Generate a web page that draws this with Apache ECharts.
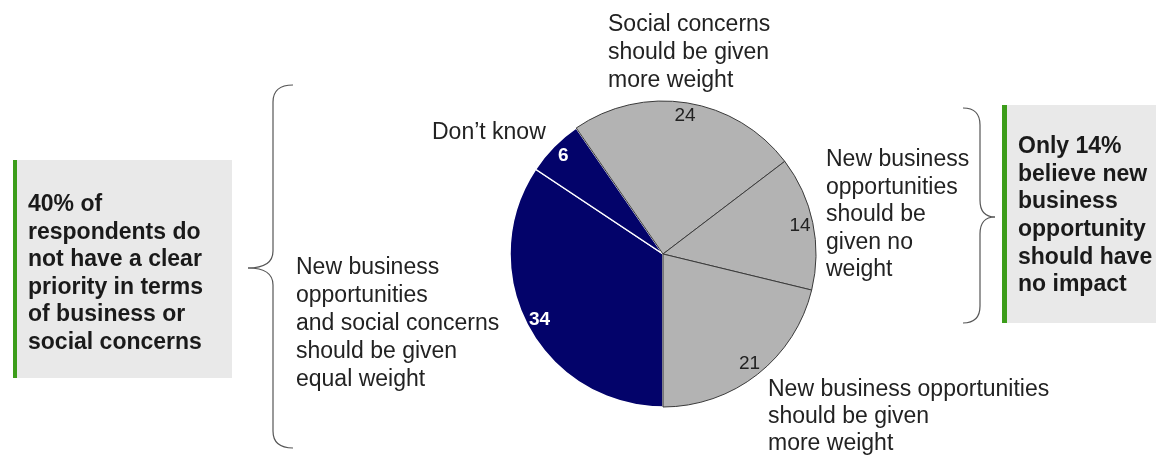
<!DOCTYPE html>
<html>
<head>
<meta charset="utf-8">
<script src="https://cdn.jsdelivr.net/npm/echarts/dist/echarts.min.js"></script>
<style>
  html, body { margin: 0; padding: 0; background: #fff; }
  #main { width: 1156px; height: 457px; }
</style>
</head>
<body>
<div id="main"></div>
<script>
// 数据: slices go clockwise starting at the bottom
var sliceNames = [
  'New business\nopportunities\nand social concerns\nshould be given\nequal weight',
  'Don\u2019t know',
  'Social concerns\nshould be given\nmore weight',
  'New business\nopportunities\nshould be\ngiven no\nweight',
  'New business opportunities\nshould be given\nmore weight'
]
var sliceValues = [34, 6, 24, 14, 21]
var sliceColors = ['#03036a', '#03036a', '#b3b3b3', '#b3b3b3', '#b3b3b3']
var leftNote = '40% of\nrespondents do\nnot have a clear\npriority in terms\nof business or\nsocial concerns'
var rightNote = 'Only 14%\nbelieve new\nbusiness\nopportunity\nshould have\nno impact'

var FONT = '"Liberation Sans", Arial, sans-serif'
var center = [663, 254]
var R = 153

var pieData = []
var labelData = []
sliceValues.forEach(function (v, i) {
  var dark = sliceColors[i] === '#03036a'
  pieData.push({
    name: sliceNames[i],
    value: v,
    itemStyle: {
      color: sliceColors[i],
      borderColor: dark ? '#ffffff' : '#3a3a3a',
      borderWidth: dark ? 1.5 : 1
    }
  })
  labelData.push({
    name: sliceNames[i],
    value: v,
    label: {
      color: dark ? '#ffffff' : '#222222',
      fontWeight: dark ? 'bold' : 'normal'
    }
  })
})

// slice name labels, placed by hand like the original slide
var namePos = [[296, 254, 28], [432, 119, 28], [608, 11, 28], [826, 146, 27.5], [768, 376, 27]]
var graphics = []

// grey note boxes with green bar
graphics.push({ type: 'rect', shape: { x: 13, y: 160, width: 219, height: 218 }, style: { fill: '#e9e9e9' } })
graphics.push({ type: 'rect', shape: { x: 13, y: 160, width: 4, height: 218 }, style: { fill: '#3c9d1a' } })
graphics.push({ type: 'rect', shape: { x: 1002, y: 105, width: 154, height: 218 }, style: { fill: '#e9e9e9' } })
graphics.push({ type: 'rect', shape: { x: 1002, y: 105, width: 5, height: 218 }, style: { fill: '#3c9d1a' } })

graphics.push({
  type: 'text', x: 28, y: 191,
  style: { text: leftNote, font: 'bold 23px ' + FONT, lineHeight: 27.5, fill: '#1a1a1a', verticalAlign: 'top' }
})
graphics.push({
  type: 'text', x: 1018, y: 133,
  style: { text: rightNote, font: 'bold 23px ' + FONT, lineHeight: 27.6, fill: '#1a1a1a', verticalAlign: 'top' }
})

// braces: curly bracket built from curves and straight lines
function brace (tipX, tipY, stemX, top, bottom, endX) {
  var st = { stroke: '#555', lineWidth: 1.2, fill: 'none' }
  var d = 17
  var arr = []
  arr.push({ type: 'bezierCurve', shape: { x1: endX, y1: top, cpx1: stemX, cpy1: top, x2: stemX, y2: top + d }, style: st })
  arr.push({ type: 'line', shape: { x1: stemX, y1: top + d, x2: stemX, y2: tipY - d }, style: st })
  arr.push({ type: 'bezierCurve', shape: { x1: stemX, y1: tipY - d, cpx1: stemX, cpy1: tipY, x2: tipX, y2: tipY }, style: st })
  arr.push({ type: 'bezierCurve', shape: { x1: tipX, y1: tipY, cpx1: stemX, cpy1: tipY, x2: stemX, y2: tipY + d }, style: st })
  arr.push({ type: 'line', shape: { x1: stemX, y1: tipY + d, x2: stemX, y2: bottom - d }, style: st })
  arr.push({ type: 'bezierCurve', shape: { x1: stemX, y1: bottom - d, cpx1: stemX, cpy1: bottom, x2: endX, y2: bottom }, style: st })
  return arr
}
graphics = graphics.concat(brace(248, 268, 273, 85, 448, 293))
graphics = graphics.concat(brace(995, 217, 980, 108, 323, 963))

sliceNames.forEach(function (n, i) {
  graphics.push({
    type: 'text', x: namePos[i][0], y: namePos[i][1],
    style: { text: n, font: '23px ' + FONT, lineHeight: namePos[i][2], fill: '#222', verticalAlign: 'top' }
  })
})

var myChart = echarts.init(document.getElementById('main'))
myChart.setOption({
  animation: false,
  graphic: graphics,
  series: [
    {
      type: 'pie',
      center: center,
      radius: R,
      startAngle: -90,
      clockwise: true,
      avoidLabelOverlap: false,
      silent: true,
      label: { show: false },
      labelLine: { show: false },
      data: pieData
    },
    {
      // transparent ring only used to put the numbers near the rim
      type: 'pie',
      center: center,
      radius: [R - 32, R],
      startAngle: -90,
      clockwise: true,
      avoidLabelOverlap: false,
      silent: true,
      itemStyle: { color: 'rgba(0,0,0,0)', borderWidth: 0 },
      label: { show: true, position: 'inside', formatter: '{c}', fontSize: 19, fontFamily: FONT },
      labelLine: { show: false },
      data: labelData
    }
  ]
})
</script>
</body>
</html>
